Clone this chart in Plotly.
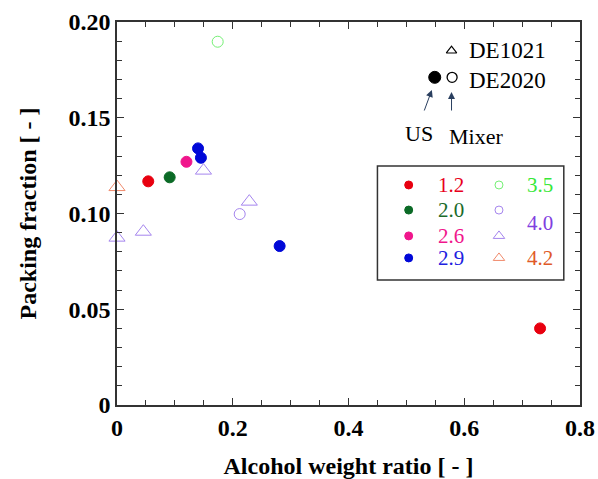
import plotly.graph_objects as go

# ---- data ----
red_x = [0.054, 0.731]
red_y = [0.1168, 0.0400]
green_x = [0.091]
green_y = [0.1189]
pink_x = [0.120]
pink_y = [0.1270]
blue_x = [0.140, 0.145, 0.281]
blue_y = [0.1340, 0.1291, 0.0830]
lgreen_x = [0.174]
lgreen_y = [0.1897]
purple_c_x = [0.212]
purple_c_y = [0.0997]
purple_t_x = [0.0, 0.0455, 0.1494, 0.2286]
purple_t_y = [0.0874, 0.0905, 0.1224, 0.1062]
orange_t_x = [0.0]
orange_t_y = [0.1138]

us_x, us_y = [0.549], [0.1711]
mixer_x, mixer_y = [0.579], [0.1711]
de1021_x, de1021_y = [0.578], [0.1850]

legend_labels = ["1.2", "2.0", "2.6", "2.9", "3.5", "4.0", "4.2"]

FONT = "Liberation Serif"
C_RED = "#e8000f"
C_DGREEN = "#0b6a26"
C_PINK = "#f0168c"
C_BLUE = "#0008d8"
C_LGREEN = "#74f074"
C_PURPLE = "#a585ee"
C_ORANGE = "#f08a6c"

fig = go.Figure()

def add(x, y, symbol, color, size, filled=True, lw=1):
    fig.add_trace(go.Scatter(
        x=x, y=y, mode="markers", showlegend=False, hoverinfo="skip", cliponaxis=False,
        marker=dict(symbol=symbol, size=size,
                    color=color if filled else "rgba(255,255,255,0)",
                    line=dict(color=color, width=lw))))

add(red_x, red_y, "circle", C_RED, 11)
add(green_x, green_y, "circle", C_DGREEN, 11)
add(pink_x, pink_y, "circle", C_PINK, 11)
add(blue_x, blue_y, "circle", C_BLUE, 11)
add(lgreen_x, lgreen_y, "circle", C_LGREEN, 11, filled=False)
add(purple_c_x, purple_c_y, "circle", C_PURPLE, 11, filled=False)
add(purple_t_x, purple_t_y, "triangle-up", C_PURPLE, 14, filled=False)
add(orange_t_x, orange_t_y, "triangle-up", C_ORANGE, 14, filled=False)

add(us_x, us_y, "circle", "black", 12)
add(mixer_x, mixer_y, "circle", "black", 10, filled=False, lw=1.3)
add(de1021_x, de1021_y, "triangle-up", "black", 9, filled=False, lw=1.2)

# ---- legend box (drawn manually) ----
lx1, lx2 = 0.504, 0.660
ly = [0.1149, 0.1018, 0.0883, 0.0768]
tx1, tx2 = 0.5766, 0.7307
fig.add_shape(type="rect", x0=0.450, x1=0.772, y0=0.0653, y1=0.1248,
              xref="x", yref="y", line=dict(color="#333", width=1.5),
              fillcolor="white", layer="below")
add([lx1], [ly[0]], "circle", C_RED, 8)
add([lx1], [ly[1]], "circle", C_DGREEN, 8)
add([lx1], [ly[2]], "circle", C_PINK, 8)
add([lx1], [ly[3]], "circle", C_BLUE, 8)
add([lx2], [ly[0]], "circle", C_LGREEN, 8, filled=False)
add([lx2], [ly[1]], "circle", C_PURPLE, 8, filled=False)
add([lx2], [ly[2]], "triangle-up", C_PURPLE, 10, filled=False)
add([lx2], [ly[3]], "triangle-up", C_ORANGE, 10, filled=False)

txt_colors = ["#e8001c", "#1a6b2a", "#f0168c", "#2020e0", "#38e838", "#8040e0", "#e05a28"]
txt_pos = [(tx1, ly[0]), (tx1, ly[1]), (tx1, ly[2]), (tx1, ly[3]),
           (tx2, ly[0]), (tx2, (ly[1] + ly[2]) / 2), (tx2, ly[3])]
for lab, col, (px, py) in zip(legend_labels, txt_colors, txt_pos):
    fig.add_annotation(x=px, y=py, text=lab, showarrow=False, xref="x", yref="y",
                       font=dict(family=FONT, size=21, color=col))

# ---- DE labels and arrows ----
fig.add_annotation(x=0.604, y=0.1850, text="DE1021", xanchor="left", showarrow=False,
                   font=dict(family=FONT, size=23, color="black"))
fig.add_annotation(x=0.604, y=0.1697, text="DE2020", xanchor="left", showarrow=False,
                   font=dict(family=FONT, size=23, color="black"))
fig.add_annotation(x=0.521, y=0.142, text="US", showarrow=False,
                   font=dict(family=FONT, size=22, color="black"))
fig.add_annotation(x=0.620, y=0.140, text="Mixer", showarrow=False,
                   font=dict(family=FONT, size=22, color="black"))
fig.add_annotation(x=0.544, y=0.1645, ax=0.530, ay=0.1530, axref="x", ayref="y",
                   text="", showarrow=True, arrowhead=2, arrowsize=1.4, arrowwidth=1)
fig.add_annotation(x=0.578, y=0.1635, ax=0.578, ay=0.1530, axref="x", ayref="y",
                   text="", showarrow=True, arrowhead=2, arrowsize=1.4, arrowwidth=1)

axis_common = dict(
    showgrid=False, zeroline=False, showline=True, linecolor="#333", linewidth=1.5,
    mirror="allticks", ticks="inside", ticklen=7, tickwidth=1.3, tickcolor="#333",
    tickfont=dict(family=FONT, size=24, color="black"), automargin=False,
    minor=dict(ticks="inside", ticklen=5, tickwidth=1.2, tickcolor="#333"),
)

fig.update_xaxes(range=[0, 0.8], tickvals=[0, 0.2, 0.4, 0.6, 0.8],
                 ticktext=["<b>0</b>", "<b>0.2</b>", "<b>0.4</b>", "<b>0.6</b>", "<b>0.8</b>"],
                 title=dict(text="<b>Alcohol weight ratio [ - ]</b>", standoff=18,
                            font=dict(family=FONT, size=24, color="black")),
                 **axis_common)
fig.update_xaxes(minor=dict(dtick=0.05, tick0=0))
fig.update_yaxes(range=[0, 0.2], tickvals=[0, 0.05, 0.1, 0.15, 0.2],
                 ticktext=["<b>0</b>", "<b>0.05</b>", "<b>0.10</b>", "<b>0.15</b>", "<b>0.20</b>"],
                 title=dict(text="<b>Packing fraction [ - ]</b>", standoff=25,
                            font=dict(family=FONT, size=24, color="black")),
                 **axis_common)
fig.update_yaxes(minor=dict(dtick=0.01, tick0=0))

fig.update_layout(
    width=598, height=479,
    margin=dict(l=117, r=18, t=22, b=74),
    plot_bgcolor="white", paper_bgcolor="white",
    showlegend=False,
)

fig.write_html("out.html", config={"displayModeBar": False},
               post_script="document.body.style.margin='0';document.body.style.overflow='hidden';")
